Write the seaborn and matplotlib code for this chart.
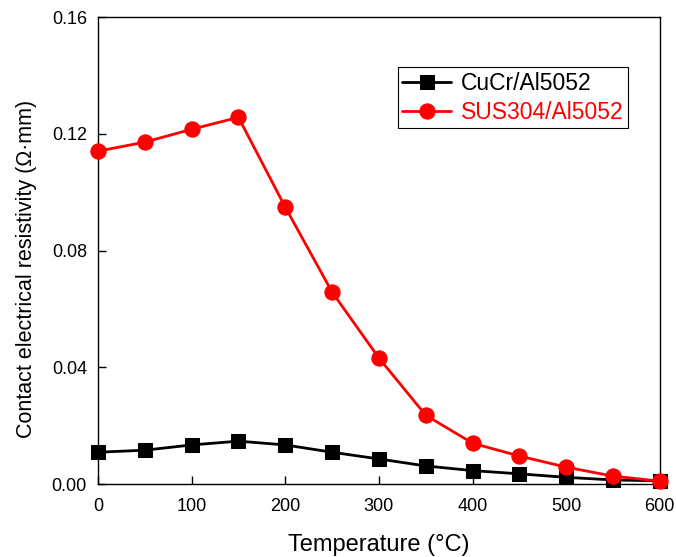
import pandas as pd
import numpy as np
import matplotlib
matplotlib.use("Agg")
import matplotlib.pyplot as plt
import seaborn as sns

# --- data ---
temperature = [0, 50, 100, 150, 200, 250, 300, 350, 400, 450, 500, 550, 600]
cucr = [0.0109, 0.0116, 0.0134, 0.0147, 0.0134, 0.0109, 0.0086, 0.0062,
        0.0046, 0.0035, 0.0023, 0.0014, 0.0011]
sus304 = [0.1141, 0.1172, 0.1216, 0.1257, 0.0949, 0.0658, 0.0432, 0.0236,
          0.0140, 0.0096, 0.0058, 0.0027, 0.0010]
series_names = ['CuCr/Al5052', 'SUS304/Al5052']
colors = ['black', 'red']
markers = ['s', 'o']
msizes = [10, 11]
y_ticks = [0.00, 0.04, 0.08, 0.12, 0.16]
x_ticks = [0, 100, 200, 300, 400, 500, 600]

df = pd.DataFrame({
    'Temperature': temperature * 2,
    'Resistivity': cucr + sus304,
    'Sample': [series_names[0]] * len(temperature) + [series_names[1]] * len(temperature),
})

sns.set_style("ticks")
plt.rcParams['font.family'] = ['Liberation Sans', 'DejaVu Sans']
plt.rcParams['xtick.direction'] = 'in'
plt.rcParams['ytick.direction'] = 'in'
plt.rcParams['text.color'] = 'black'
plt.rcParams['axes.labelcolor'] = 'black'

fig = plt.figure(figsize=(6.76, 5.57), dpi=100)
ax = fig.add_axes([0.145, 0.131, 0.831, 0.838])

for name, col, mk, ms in zip(series_names, colors, markers, msizes):
    sub = df[df['Sample'] == name]
    sns.lineplot(data=sub, x='Temperature', y='Resistivity', ax=ax, color=col,
                 marker=mk, markersize=ms, markeredgecolor=col, linewidth=2,
                 label=name, clip_on=False, zorder=3)

ax.set_xlim(0, 600)
ax.set_ylim(0, 0.16)
ax.set_xticks(x_ticks)
ax.set_yticks(y_ticks)
ax.set_yticklabels([f"{v:.2f}" for v in y_ticks])
ax.tick_params(labelsize=13, length=6, width=1, colors='black', pad=8)
ax.tick_params(axis='x', pad=10)
for s in ax.spines.values():
    s.set_visible(True)
    s.set_color('black')
    s.set_linewidth(1)

ax.set_xlabel("Temperature (°C)", fontsize=17, labelpad=14)
ax.set_ylabel("Contact electrical resistivity (Ω·mm)", fontsize=15.5)
ax.yaxis.set_label_coords(-0.108, 0.46)

leg = ax.legend(loc='upper right', bbox_to_anchor=(0.943, 0.893), borderaxespad=0,
                fontsize=16.5, frameon=True, fancybox=False, edgecolor='black',
                framealpha=1, handlelength=2.15, handletextpad=0.4,
                borderpad=0.2, labelspacing=0.25)
leg.get_frame().set_linewidth(0.8)
for txt, col in zip(leg.get_texts(), colors):
    txt.set_color(col)

fig.savefig("out.png", dpi=100)
